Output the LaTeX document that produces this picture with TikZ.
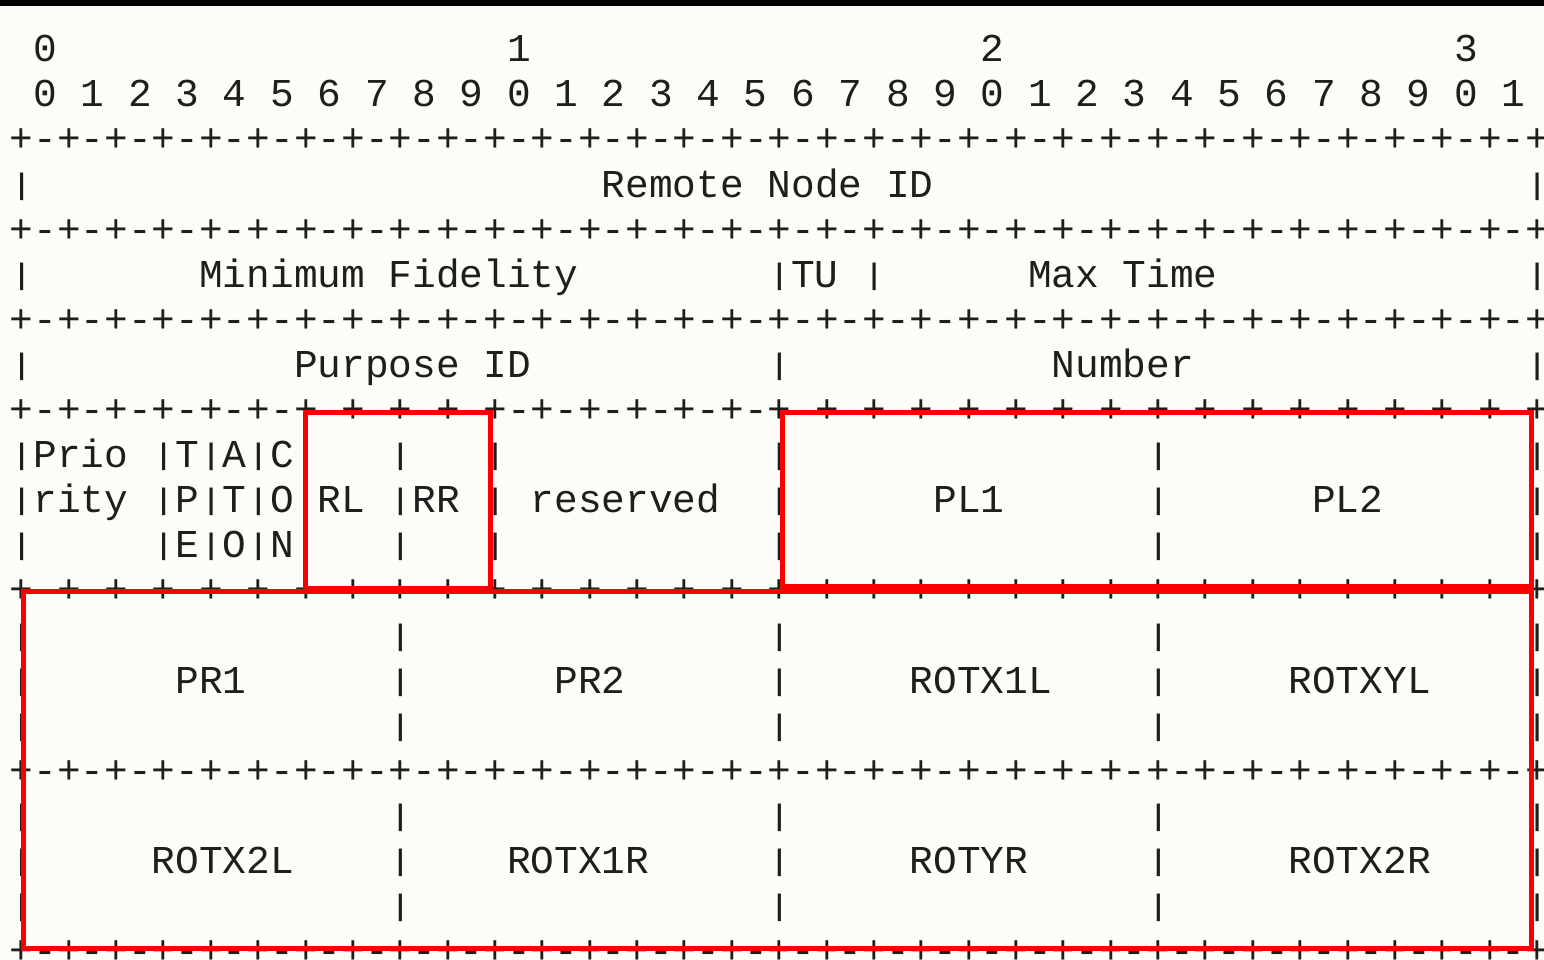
\documentclass[tikz,border=0pt]{standalone}
\usepackage{fontspec}
\newfontfamily\pktfont{Liberation Mono}
\definecolor{paper}{RGB}{253,252,247}
\definecolor{ink}{RGB}{30,30,30}
\definecolor{mark}{RGB}{250,0,0}
\tikzset{
  glyph/.style={anchor=base west, inner sep=0pt, outer sep=0pt, text=ink,
    font=\pktfont\fontsize{39.47}{45.1}\selectfont},
  hilite/.style={draw=mark, line width=5pt, line join=miter},
}
% one 16-character piece of the bit ruler
\newcommand\rulepiece{+-+-+-+-+-+-+-+-}
% a field separator, a little shorter than the full-height glyph
\newcommand\fbar{\raisebox{3pt}{\scalebox{1}[0.75]{|}}}
% place text in the character grid: name, row, column, text
\newcommand\cellat[4]{\node[glyph] (#1) at ({9.86+23.68*(#3)},{61.7+45.1*(#2)}) {#4};}

\begin{document}
\begin{tikzpicture}[x=1pt, y=-1pt]
  \useasboundingbox (0,0) rectangle (1544,960);
  \clip (0,0) rectangle (1544,960);
  \fill[paper] (0,0) rectangle (1544,960);

  % bit numbering
  \cellat{dec0}{0}{1}{0}
  \cellat{dec1}{0}{21}{1}
  \cellat{dec2}{0}{41}{2}
  \cellat{dec3}{0}{61}{3}
  \foreach \k in {0,...,31} {
    \pgfmathtruncatemacro\dg{mod(\k,10)}
    \pgfmathtruncatemacro\cc{2*\k+1}
    \cellat{bit\k}{1}{\cc}{\dg}
  }

  % separator rows
  \foreach \r in {2,4,6,8,12,16,20} {
    \cellat{rule\r}{\r}{0}{\rulepiece\rulepiece\rulepiece\rulepiece+}
  }

  % word 1
  \cellat{bar3a}{3}{0}{\fbar}
  \cellat{remote}{3}{25}{Remote Node ID}
  \cellat{bar3b}{3}{64}{\fbar}

  % word 2
  \cellat{bar5a}{5}{0}{\fbar}
  \cellat{minfid}{5}{8}{Minimum Fidelity}
  \cellat{bar5b}{5}{32}{\fbar}
  \cellat{tu}{5}{33}{TU}
  \cellat{bar5c}{5}{36}{\fbar}
  \cellat{maxtime}{5}{43}{Max Time}
  \cellat{bar5d}{5}{64}{\fbar}

  % word 3
  \cellat{bar7a}{7}{0}{\fbar}
  \cellat{purpose}{7}{12}{Purpose ID}
  \cellat{bar7b}{7}{32}{\fbar}
  \cellat{number}{7}{44}{Number}
  \cellat{bar7c}{7}{64}{\fbar}

  % word 4: flags and small fields
  \foreach \r in {9,10,11} {
    \foreach \c in {0,6,8,10,12,16,20,32,48,64} {
      \cellat{bar\r c\c}{\r}{\c}{\fbar}
    }
  }
  \cellat{prio}{9}{1}{Prio}
  \cellat{fT}{9}{7}{T}
  \cellat{fA}{9}{9}{A}
  \cellat{fC}{9}{11}{C}
  \cellat{rity}{10}{1}{rity}
  \cellat{fP}{10}{7}{P}
  \cellat{fT2}{10}{9}{T}
  \cellat{fO}{10}{11}{O}
  \cellat{rl}{10}{13}{RL}
  \cellat{rr}{10}{17}{RR}
  \cellat{reserved}{10}{22}{reserved}
  \cellat{pl1}{10}{39}{PL1}
  \cellat{pl2}{10}{55}{PL2}
  \cellat{fE}{11}{7}{E}
  \cellat{fO2}{11}{9}{O}
  \cellat{fN}{11}{11}{N}

  % words 5 and 6: four byte-wide fields each
  \foreach \r in {13,14,15,17,18,19} {
    \foreach \c in {0,16,32,48,64} {
      \cellat{bar\r c\c}{\r}{\c}{\fbar}
    }
  }
  \cellat{pr1}{14}{7}{PR1}
  \cellat{pr2}{14}{23}{PR2}
  \cellat{rotxa}{14}{38}{ROTX1L}
  \cellat{rotxyl}{14}{54}{ROTXYL}
  \cellat{rotxb}{18}{6}{ROTX2L}
  \cellat{rotxc}{18}{21}{ROTX1R}
  \cellat{rotyr}{18}{38}{ROTYR}
  \cellat{rotxd}{18}{54}{ROTX2R}

  % highlighted field groups
  \draw[hilite] (305.3,412) rectangle (490,588);
  \draw[hilite] (782.8,412) rectangle (1531.2,586.5);
  \draw[hilite] (23.8,591.5) rectangle (1531.2,948.8);

  % top band
  \fill[black] (0,0) rectangle (1544,6);
\end{tikzpicture}
\end{document}
